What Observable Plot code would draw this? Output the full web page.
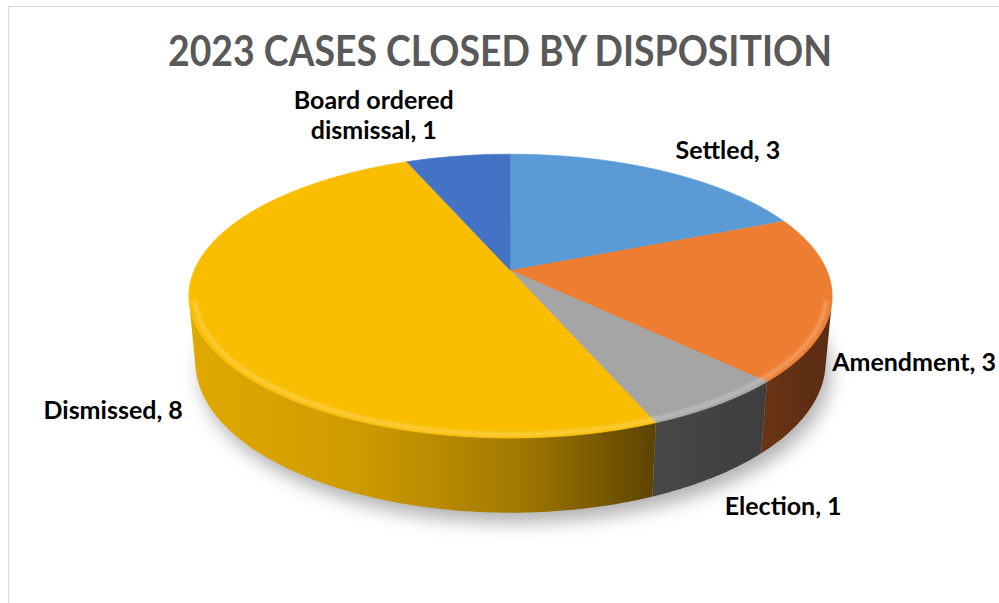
<!DOCTYPE html>
<html><head><meta charset="utf-8">
<script src="https://cdn.jsdelivr.net/npm/d3@7"></script>
<script src="https://cdn.jsdelivr.net/npm/@observablehq/plot@0.6"></script>
<style>
html,body{margin:0;padding:0;background:#fff;}
#wrap{position:relative;width:999px;height:603px;overflow:hidden;}
#border{position:absolute;left:8px;top:6px;right:-2px;bottom:-2px;border-left:1.5px solid #d9d9d9;border-top:1.5px solid #d9d9d9;}
#chart{position:absolute;left:0;top:0;}
</style></head><body><div id="wrap"><div id="border"></div><div id="chart"></div></div>
<script>
// ---- data ----
const categories = ["Settled", "Amendment", "Election", "Dismissed", "Board ordered dismissal"];
const values = [3, 3, 1, 8, 1];
const topColors = ["#5B9BD5", "#ED7D31", "#A5A5A5", "#FABD00", "#4472C4"];
const title = "2023 CASES CLOSED BY DISPOSITION";

// ---- styles ----
const wallStops = [
  [["0", "#3f6f9c"], ["1", "#2f5678"]],
  [["0", "#6a3414"], ["1", "#5a2c12"]],
  [["0", "#474747"], ["1", "#3e3e3e"]],
  [["0", "#E0A900"], ["0.35", "#CF9C00"], ["0.7", "#A37A00"], ["1", "#5C4300"]],
  [["0", "#2f4f8a"], ["1", "#263f70"]]
];

// ---- 3D perspective geometry ----
const W = 999, H = 603;
const cx = 510, cy = 270, k = 1582, dist = 5.0;
const sa = 0.434, ca = Math.sqrt(1 - sa * sa), thick = 0.232;
function proj(X, Z, Y) {
  const D = dist - (Z * ca + Y * sa);
  return [cx + k * X / D, cy + k * (Z * sa - Y * ca) / D];
}
const STEP = Math.PI / 360;
function arcPts(a0, a1, Y, r = 1) {
  const n = Math.max(2, Math.ceil((a1 - a0) / STEP));
  const pts = [];
  for (let i = 0; i <= n; i++) {
    const a = a0 + (a1 - a0) * i / n;
    pts.push(proj(r * Math.sin(a), -r * Math.cos(a), Y));
  }
  return pts;
}
function lighten(c, t) { return d3.interpolateRgb(c, "#fff")(t); }

const pie = d3.pie().sort(null).value(v => v)(values);
const visLo = Math.acos(-1 / (dist * ca)), visHi = 2 * Math.PI - visLo;

const topRows = [], wallRows = [], hiRows = [], shadowRows = [];
pie.forEach((p, i) => {
  const name = categories[i];
  const c = proj(0, 0, 0);
  [c, ...arcPts(p.startAngle, p.endAngle, 0)].forEach(q => topRows.push({name, x: q[0], y: q[1], fill: topColors[i]}));
  const a0 = Math.max(p.startAngle, visLo), a1 = Math.min(p.endAngle, visHi);
  if (a1 > a0) {
    const up = arcPts(a0, a1, 0), dn = arcPts(a0, a1, -thick).reverse();
    [...up, ...dn].forEach(q => wallRows.push({name, x: q[0], y: q[1], fill: `url(#wall${i})`}));
    arcPts(a0, a1, 0, 0.982).forEach(q => hiRows.push({name, x: q[0], y: q[1], stroke: lighten(topColors[i], 0.35)}));
  }
});
arcPts(0, 2 * Math.PI, -thick).forEach(q => shadowRows.push({x: q[0], y: q[1]}));

const font = "Lato, 'Open Sans', sans-serif";
const LABEL_SIZE = 25, LINE_H = 1.2;

const labelRows = pie.map((p, i) => {
  const a = (p.startAngle + p.endAngle) / 2;
  const s = Math.sin(a), c = Math.cos(a);
  const Y = (-c > 0.1) ? -thick : 0;
  const [x, y] = proj(s, -c, Y);
  // labels beside the pie sit just above their anchor point
  const lift = Math.abs(c) < 0.3 ? LABEL_SIZE * 0.5 : 0;
  return {label: `${categories[i]}, ${values[i]}`, x: x + 22 * s, y: y - 30 * c + 3 - lift,
          anchor: s > 0.1 ? "start" : s < -0.1 ? "end" : "middle"};
});

const labelOpts = {x: "x", y: "y", text: "label", fontSize: LABEL_SIZE, fontWeight: 700, fill: "#000",
  fontFamily: font, lineAnchor: "middle", lineWidth: 9, lineHeight: LINE_H};

const chart = Plot.plot({
  width: W, height: H, margin: 0,
  x: {domain: [0, W], range: [0, W], axis: null},
  y: {domain: [0, H], range: [0, H], axis: null},
  color: {type: "identity"},
  style: {background: "transparent", overflow: "visible"},
  marks: [
    Plot.line(shadowRows, {x: "x", y: "y", fill: "#000", fillOpacity: 0.3, stroke: "none", dx: 5, dy: 10}),
    Plot.line(wallRows, {x: "x", y: "y", z: "name", fill: "fill", stroke: "none"}),
    Plot.line(topRows, {x: "x", y: "y", z: "name", fill: "fill", stroke: "fill", strokeWidth: 0.6}),
    Plot.line(hiRows, {x: "x", y: "y", z: "name", stroke: "stroke", strokeWidth: 4, strokeOpacity: 0.7}),
    Plot.text(labelRows.filter(d => d.anchor === "start"), {...labelOpts, textAnchor: "start"}),
    Plot.text(labelRows.filter(d => d.anchor === "end"), {...labelOpts, textAnchor: "end"}),
    Plot.text(labelRows.filter(d => d.anchor === "middle"), {...labelOpts, textAnchor: "middle"}),
    Plot.text([title], {text: d => d, frameAnchor: "top", dy: 52, lineAnchor: "middle", fontSize: 42,
      fontWeight: 700, fill: "#595959", fontFamily: font})
  ]
});
document.getElementById("chart").appendChild(chart);

// defs: gradients and blur filters
const svg = d3.select(chart);
const defs = svg.insert("defs", ":first-child");
wallStops.forEach((stops, i) => {
  const g = defs.append("linearGradient").attr("id", `wall${i}`).attr("x1", 0).attr("x2", 1).attr("y1", 0).attr("y2", 0);
  stops.forEach(([o, c]) => g.append("stop").attr("offset", o).attr("stop-color", c));
});
defs.append("filter").attr("id", "blurShadow").attr("x", "-20%").attr("y", "-20%").attr("width", "140%").attr("height", "140%")
  .append("feGaussianBlur").attr("stdDeviation", 9);
defs.append("filter").attr("id", "blurBevel").attr("x", "-5%").attr("y", "-5%").attr("width", "110%").attr("height", "110%")
  .append("feGaussianBlur").attr("stdDeviation", 1.6);
const lineGroups = chart.querySelectorAll('g[aria-label="line"]');
if (lineGroups[0]) lineGroups[0].setAttribute("filter", "url(#blurShadow)");
if (lineGroups[3]) lineGroups[3].setAttribute("filter", "url(#blurBevel)");

// title: fixed width like the reference
const allText = Array.from(chart.querySelectorAll("text"));
const titleNode = allText.find(el => el.textContent === title);
if (titleNode) {
  titleNode.setAttribute("textLength", 664);
  titleNode.setAttribute("lengthAdjust", "spacingAndGlyphs");
}
const labelNodes = allText.filter(el => el !== titleNode);

// layout adjustments after fonts are available
function adjust() {
  labelNodes.forEach(el => {
    if (el.getAttribute("data-base") === null) el.setAttribute("data-base", el.getAttribute("transform") || "");
    const base = el.getAttribute("data-base");
    el.setAttribute("transform", base);
    el.removeAttribute("text-anchor");
    const n = el.querySelectorAll("tspan").length;
    const anchor = el.parentNode.getAttribute("text-anchor");
    const bb = el.getBBox();
    let sx = 0, sy = 0;
    // multi-line labels: centre the lines and keep the block above its anchor
    if (n > 1 && anchor === "end") {
      el.setAttribute("text-anchor", "middle");
      sx = -bb.width / 2;
      sy = -(n - 1) * LABEL_SIZE * LINE_H / 2;
    }
    el.setAttribute("transform", `${base} translate(${sx},${sy})`);
    // keep labels inside the chart area
    const b2 = el.getBBox();
    const m = el.getCTM();
    const right = m.e + b2.x + b2.width;
    if (right > W - 3) el.setAttribute("transform", `${base} translate(${sx - (right - (W - 3))},${sy})`);
  });
}
adjust();
if (document.fonts && document.fonts.ready) document.fonts.ready.then(adjust);
</script></body></html>
